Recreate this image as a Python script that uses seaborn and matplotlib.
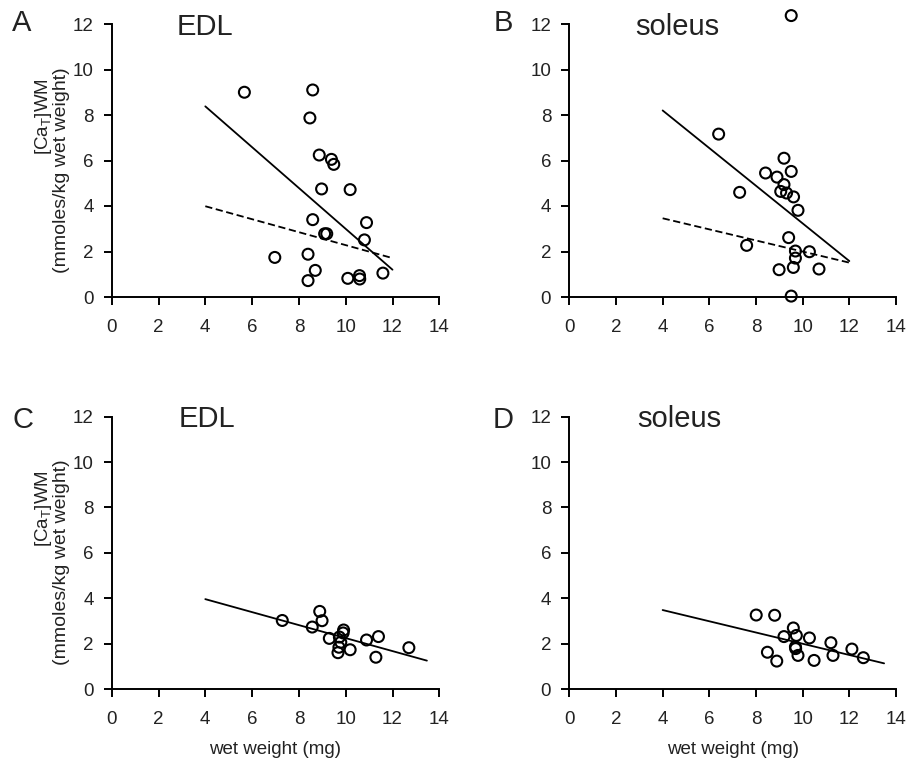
import numpy as np
import pandas as pd
import matplotlib
matplotlib.use("Agg")
import matplotlib.pyplot as plt
import seaborn as sns

# ---------------- data ----------------
# Panel A: EDL (top)
edl_top_x = [5.67, 8.59, 8.47, 8.87, 9.39, 9.49, 8.97, 10.19, 8.59, 10.89, 9.10,
             9.19, 10.80, 6.97, 8.39, 8.70, 8.39, 10.09, 10.59, 10.60, 11.59]
edl_top_y = [9.00, 9.10, 7.87, 6.24, 6.05, 5.83, 4.75, 4.72, 3.40, 3.27, 2.78,
             2.78, 2.51, 1.74, 1.88, 1.17, 0.72, 0.82, 0.94, 0.79, 1.05]
edl_top_fit_x = [4, 12]
edl_top_fit_y = [8.38, 1.20]
edl_top_fit2_x = [4, 12]
edl_top_fit2_y = [3.99, 1.71]

# Panel B: soleus (top)
sol_top_x = [9.51, 6.40, 9.20, 9.51, 8.41, 8.90, 9.20, 9.06, 9.31, 9.61, 7.30,
             9.80, 9.40, 7.60, 9.69, 10.29, 9.69, 9.60, 8.99, 10.70, 9.51]
sol_top_y = [12.37, 7.16, 6.10, 5.52, 5.45, 5.27, 4.94, 4.64, 4.57, 4.40, 4.60,
             3.81, 2.61, 2.27, 2.02, 1.99, 1.71, 1.30, 1.20, 1.23, 0.04]
sol_top_fit_x = [4, 12]
sol_top_fit_y = [8.20, 1.58]
sol_top_fit2_x = [4, 12]
sol_top_fit2_y = [3.46, 1.51]

# Panel C: EDL (bottom)
edl_bot_x = [7.29, 8.89, 8.99, 8.57, 9.30, 9.91, 9.89, 9.73, 9.79, 9.71, 9.67,
             10.19, 10.89, 11.40, 11.29, 12.70]
edl_bot_y = [3.02, 3.42, 3.01, 2.73, 2.23, 2.60, 2.47, 2.29, 2.06, 1.84, 1.60,
             1.73, 2.16, 2.31, 1.40, 1.82]
edl_bot_fit_x = [4, 13.47]
edl_bot_fit_y = [3.96, 1.25]

# Panel D: soleus (bottom)
sol_bot_x = [8.01, 8.80, 9.60, 9.20, 9.73, 10.29, 11.21, 9.69, 9.70, 12.11, 8.49,
             9.80, 11.30, 8.89, 10.49, 12.60]
sol_bot_y = [3.26, 3.25, 2.69, 2.31, 2.36, 2.25, 2.04, 1.86, 1.78, 1.76, 1.62,
             1.48, 1.48, 1.23, 1.26, 1.38]
sol_bot_fit_x = [4, 13.49]
sol_bot_fit_y = [3.48, 1.13]

x_ticks = [0, 2, 4, 6, 8, 10, 12, 14]
y_ticks = [0, 2, 4, 6, 8, 10, 12]
panel_letters = ["A", "B", "C", "D"]
panel_titles = ["EDL", "soleus", "EDL", "soleus"]
ylabel_line1 = r"[Ca$_\mathregular{T}$]WM"
ylabel_line2 = "(mmoles/kg wet weight)"
xlabel_text = "wet weight (mg)"

# ---------------- style ----------------
sns.set_theme(style="ticks")
TXT = "#222222"
plt.rcParams["font.family"] = ["Liberation Sans", "DejaVu Sans"]
plt.rcParams["mathtext.fontset"] = "custom"
plt.rcParams["mathtext.rm"] = "Liberation Sans"
plt.rcParams["axes.edgecolor"] = "black"
plt.rcParams["axes.linewidth"] = 1.4

W, H = 909, 772
fig = plt.figure(figsize=(W / 100, H / 100), dpi=100)


def px_rect(x0, x1, ytop, ybot):
    return [x0 / W, 1 - ybot / H, (x1 - x0) / W, (ybot - ytop) / H]


rects = [px_rect(111.7, 439.3, 24, 297),
         px_rect(569.3, 896.0, 24, 297),
         px_rect(111.7, 439.3, 416.7, 689),
         px_rect(569.3, 896.0, 416.7, 689)]

scatters = [(edl_top_x, edl_top_y), (sol_top_x, sol_top_y),
            (edl_bot_x, edl_bot_y), (sol_bot_x, sol_bot_y)]
solid_fits = [(edl_top_fit_x, edl_top_fit_y), (sol_top_fit_x, sol_top_fit_y),
              (edl_bot_fit_x, edl_bot_fit_y), (sol_bot_fit_x, sol_bot_fit_y)]
dashed_fits = [(edl_top_fit2_x, edl_top_fit2_y), (sol_top_fit2_x, sol_top_fit2_y),
               None, None]

axes = []
for i, r in enumerate(rects):
    ax = fig.add_axes(r)
    axes.append(ax)
    fx, fy = solid_fits[i]
    sns.lineplot(x=fx, y=fy, ax=ax, color="black", linewidth=1.3, clip_on=False)
    if dashed_fits[i] is not None:
        dx, dy = dashed_fits[i]
        sns.lineplot(x=dx, y=dy, ax=ax, color="black", linewidth=1.3,
                     linestyle=(0, (4, 2)), clip_on=False)
    sx, sy = scatters[i]
    sns.scatterplot(x=sx, y=sy, ax=ax, marker="o", s=62,
                    facecolor="none", edgecolor="black", linewidth=1.5,
                    clip_on=False, zorder=3)
    ax.set_xlim(0, 14)
    ax.set_ylim(0, 12)
    ax.set_xticks(x_ticks)
    ax.set_yticks(y_ticks)
    ax.set_xticklabels([str(t) for t in x_ticks])
    ax.set_yticklabels([str(t) for t in y_ticks])
    ax.tick_params(axis="both", direction="out", length=6, width=1.4,
                   colors="black", labelcolor=TXT, labelsize=13.5)
    ax.tick_params(axis="x", pad=10)
    ax.tick_params(axis="y", pad=7)
    sns.despine(ax=ax)
    ax.set_facecolor("none")
    ax.set_xlabel("")
    ax.set_ylabel("")

# x labels for bottom panels
for ax in axes[2:]:
    ax.set_xlabel(xlabel_text, fontsize=13.5, color=TXT, labelpad=9)

# panel letters and titles (pixel positions -> figure fraction)
letter_pos = [(22, 31), (503, 31), (23, 428), (503, 428)]
title_pos = [(205, 35), (677, 35), (207, 427), (679, 427)]
for k in range(4):
    lx, ly = letter_pos[k]
    fig.text(lx / W, 1 - ly / H, panel_letters[k], fontsize=21, color=TXT,
             ha="center", va="baseline")
    tx, ty = title_pos[k]
    fig.text(tx / W, 1 - ty / H, panel_titles[k], fontsize=21, color=TXT,
             ha="center", va="baseline")

# y labels (two lines) for left panels
for off in (0, 392):
    fig.text(44 / W, 1 - (117 + off) / H, ylabel_line1, fontsize=13.5, color=TXT,
             rotation=90, ha="center", va="center")
    fig.text(61 / W, 1 - (170 + off) / H, ylabel_line2, fontsize=14, color=TXT,
             rotation=90, ha="center", va="center")

fig.savefig("out.png", dpi=100, facecolor="white")
